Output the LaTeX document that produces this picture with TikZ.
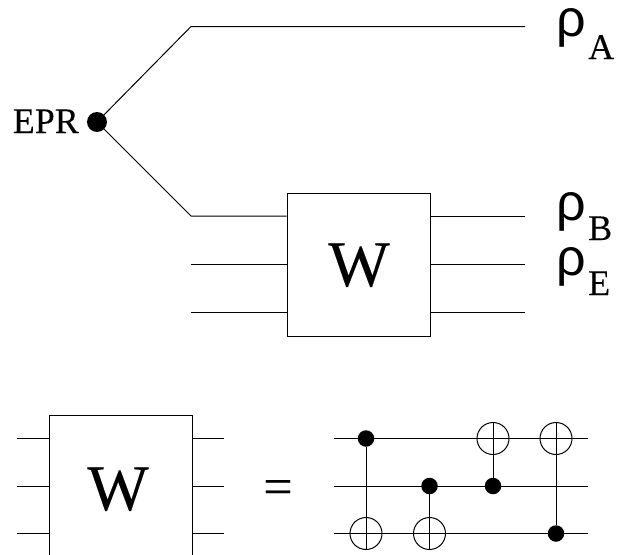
\documentclass[tikz,border=0pt]{standalone}
\usepackage{fontspec}
\setmainfont[FakeBold=0.2]{Liberation Serif}
\newfontfamily\rhofont{Liberation Sans}
\usetikzlibrary{positioning}

\tikzset{
	wire/.style = {line width = 1pt},
	gatebox/.style = {draw, line width = 1pt, minimum size = 143pt, inner sep = 0pt},
	gatetext/.style = {inner sep = 0pt, font = \fontsize{65}{65}\selectfont},
	ctrl/.style = {circle, fill = black, minimum size = 16.5pt, inner sep = 0pt},
	targ/.style = {circle, draw, line width = 1pt, minimum size = 32pt, inner sep = 0pt,
		path picture = {
			\draw[wire] (path picture bounding box.north) -- (path picture bounding box.south);
		}},
	rholabel/.style = {anchor = base west, inner sep = 0pt,
		font = \rhofont\fontsize{52}{52}\selectfont},
	sublabel/.style = {anchor = base west, inner sep = 0pt,
		font = \fontsize{36}{36}\selectfont},
}

\begin{document}
\begin{tikzpicture}[x = 1pt, y = -1pt]

	% page
	\clip (0,0) rectangle (623,554);

	% source
	\node[ctrl, minimum size = 20pt] (EPR) at (97,122) {};
	\node[anchor = base east, inner sep = 0pt, font = \fontsize{36}{36}\selectfont]
		(EPRtext) at (79,133) {EPR};

	% box W
	\node[gatebox] (W) at (358.5,264.5) {};
	\node[gatetext, anchor = base] (Wtext) at (359,286) {W};

	% wire ends
	\coordinate (A1) at (191,26.5);
	\coordinate (A2) at (525,26.5);
	\coordinate (B1) at (191,216);
	\coordinate (B2) at (525,216);
	\coordinate (E1) at (191,264);
	\coordinate (E2) at (525,264);
	\coordinate (F1) at (191,312);
	\coordinate (F2) at (525,312);

	% wires
	\draw[wire] (EPR) -- (A1) -- (A2);
	\draw[wire] (EPR) -- (B1) -- (B1 -| W.west);
	\foreach \p in {B,E,F}
		\draw[wire] (\p2 -| W.east) -- (\p2);
	\foreach \p in {E,F}
		\draw[wire] (\p1) -- (\p1 -| W.west);

	% outputs
	\node[rholabel] (rhoA) at (556,36) {ρ};
	\node[sublabel] (subA) at (588,59) {A};
	\node[rholabel] (rhoB) at (556,220) {ρ};
	\node[sublabel] (subB) at (588,240) {B};
	\node[rholabel] (rhoE) at (556,275) {ρ};
	\node[sublabel] (subE) at (588,295) {E};

	% lower box W
	\node[gatebox] (V) at (120.5,486.5) {};
	\node[gatetext, anchor = base] (Vtext) at (118,510) {W};
	\foreach \y/\n in {438.5/a,486/b,533.5/c} {
		\coordinate (L\n) at (17,\y);
		\coordinate (R\n) at (224,\y);
		\draw[wire] (L\n) -- (L\n -| V.west);
		\draw[wire] (R\n -| V.east) -- (R\n);
	}

	% equals
	\node[inner sep = 0pt, font = \fontsize{52}{52}\selectfont] (eq) at (278,492) {=};

	% circuit lines
	\foreach \y/\n in {438.5/a,486/b,533.5/c} {
		\coordinate (S\n) at (334,\y);
		\coordinate (T\n) at (588,\y);
		\draw[wire] (S\n) -- (T\n);
	}

	% gates
	\node[ctrl] (c1) at (366,438.5) {};
	\node[targ] (t1) at (366,533.5) {};
	\node[ctrl] (c2) at (429.5,486) {};
	\node[targ] (t2) at (429.5,533.5) {};
	\node[ctrl] (c3) at (493,486) {};
	\node[targ] (t3) at (493,438.5) {};
	\node[ctrl] (c4) at (556,533.5) {};
	\node[targ] (t4) at (556,438.5) {};
	\foreach \i in {1,2,3,4}
		\draw[wire] (c\i) -- (t\i);

\end{tikzpicture}
\end{document}
